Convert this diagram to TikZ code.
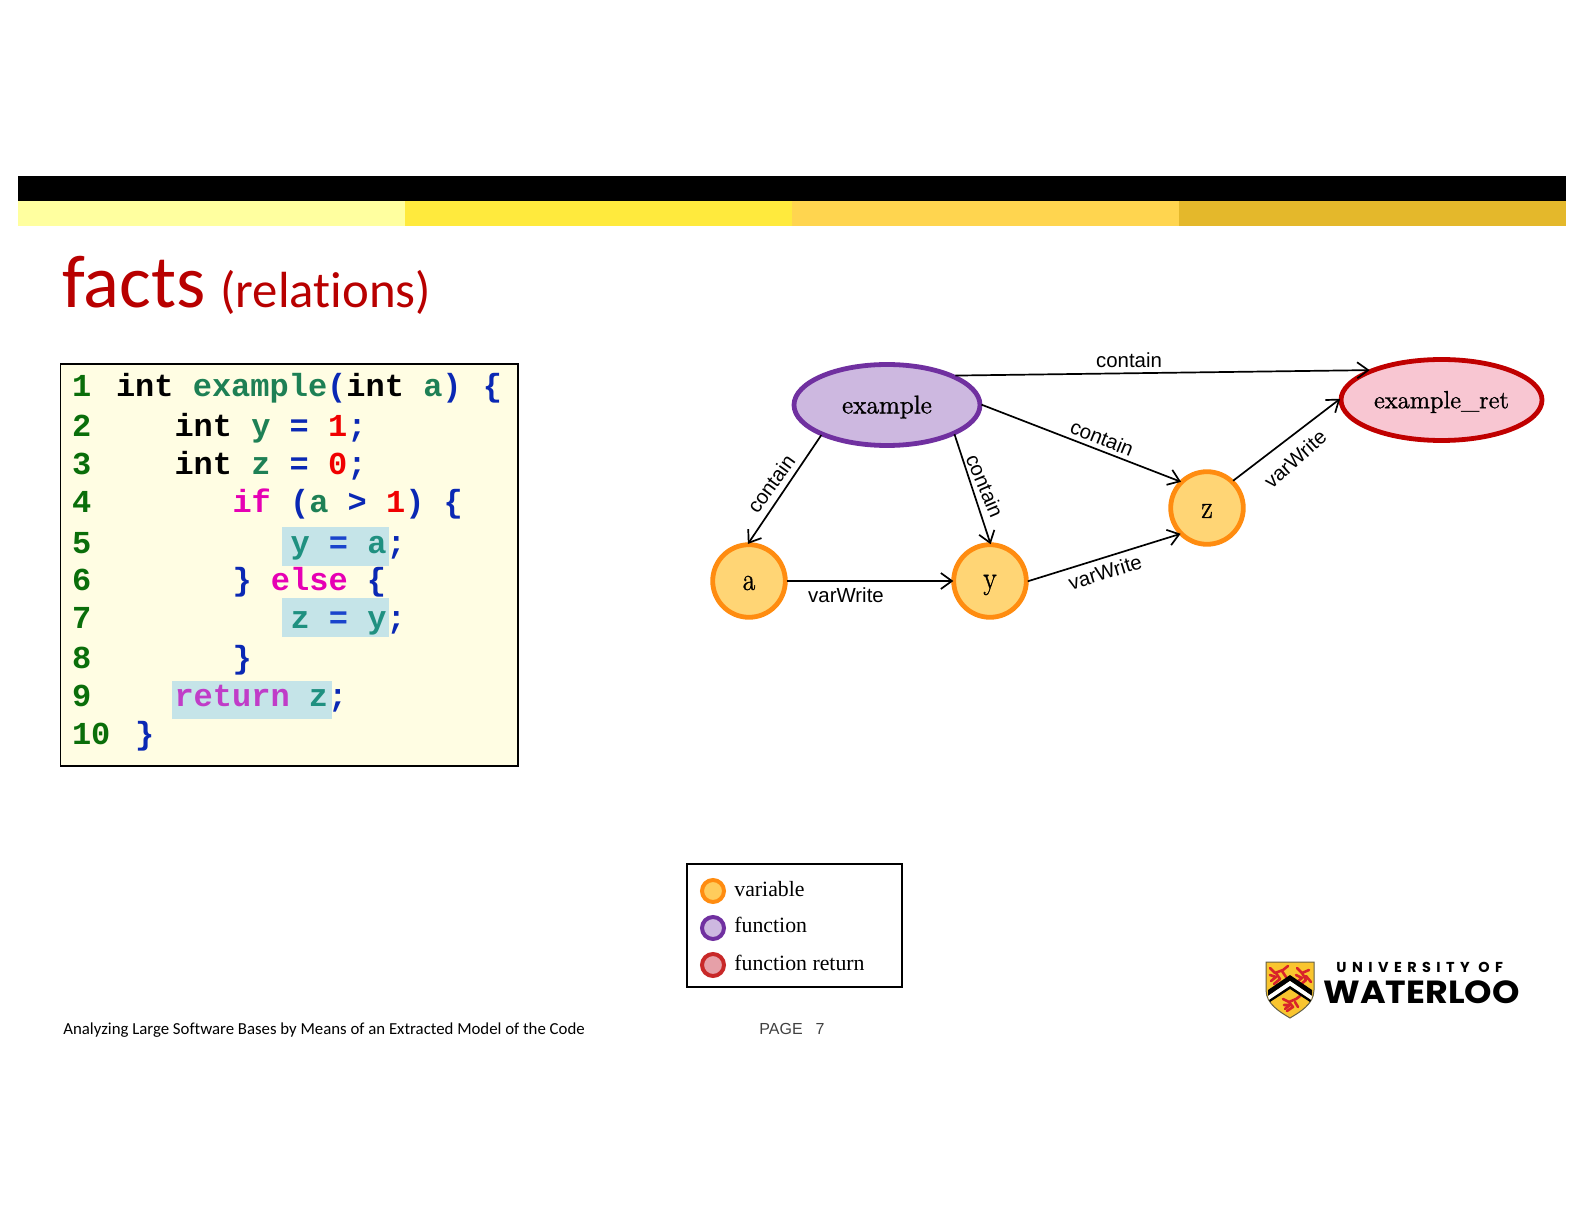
\documentclass[tikz,border=0pt]{standalone}
\usepackage{fontspec}
\usetikzlibrary{arrows.meta,shapes.geometric}
\setmainfont{Latin Modern Roman}
\setmonofont{Liberation Mono}
\newfontfamily\carlito[Ligatures=NoCommon]{Carlito}
\newfontfamily\arial{Liberation Sans}
\newfontfamily\serifleg{Liberation Serif}
\newfontfamily\fakeb[FakeBold=1.2]{Latin Modern Roman}
\newfontfamily\poppu[LetterSpace=38]{Poppins}
\newfontfamily\poppw{Poppins}
\definecolor{numc}{HTML}{0A6E0A}
\definecolor{idc}{HTML}{1E8055}
\definecolor{punc}{HTML}{0A28B4}
\definecolor{litc}{HTML}{F00000}
\definecolor{kwc}{HTML}{E600B4}
\definecolor{hlid}{HTML}{1F9080}
\definecolor{hleq}{HTML}{1A44CC}
\definecolor{retc}{HTML}{C03CC8}
\definecolor{hlbg}{HTML}{C5E4E8}
\definecolor{codebg}{HTML}{FFFDE3}
\definecolor{varl}{HTML}{FF8C10}
\definecolor{varf}{HTML}{FFD575}
\definecolor{funl}{HTML}{7030A0}
\definecolor{funf}{HTML}{CDB8E0}
\definecolor{retl}{HTML}{C00000}
\definecolor{retf}{HTML}{F8C6D2}
\definecolor{titc}{HTML}{B80000}
\definecolor{bara}{HTML}{FFFF9F}
\definecolor{barb}{HTML}{FFEA3D}
\definecolor{barc}{HTML}{FFD54F}
\definecolor{bard}{HTML}{E4B82B}
\definecolor{legvf}{HTML}{FFCC5C}
\definecolor{legrl}{HTML}{C82828}
\definecolor{legrf}{HTML}{E6A0A8}
\definecolor{shieldy}{HTML}{F9C52F}
\definecolor{shieldr}{HTML}{D8232A}
\newcommand{\cN}[1]{\textcolor{numc}{#1}}
\newcommand{\cI}[1]{\textcolor{idc}{#1}}
\newcommand{\cP}[1]{\textcolor{punc}{#1}}
\newcommand{\cL}[1]{\textcolor{litc}{#1}}
\newcommand{\cK}[1]{\textcolor{kwc}{#1}}
\newcommand{\cH}[1]{\textcolor{hlid}{#1}}
\newcommand{\cE}[1]{\textcolor{hleq}{#1}}
\newcommand{\nudge}[2]{\raisebox{-#1}[\height][\depth]{#2}}
\newcommand{\varlabel}[2]{\nudge{#1}{\scalebox{0.85}[1]{#2}}}
\tikzset{
  x=0.5pt,y=-0.5pt,
  codeline/.style={anchor=base west,inner sep=0pt,outer sep=0pt,font=\ttfamily\bfseries\fontsize{16}{16}\selectfont},
  varnode/.style={circle,draw=varl,fill=varf,line width=2.4pt,minimum size=36.3pt,inner sep=0pt,font=\fakeb\fontsize{16}{16}\selectfont},
  funnode/.style={ellipse,draw=funl,fill=funf,line width=2.4pt,minimum width=93pt,minimum height=40.5pt,inner sep=0pt,font=\fakeb\fontsize{12.8}{13}\selectfont},
  retnode/.style={ellipse,draw=retl,fill=retf,line width=2.4pt,minimum width=100.5pt,minimum height=40.5pt,inner sep=0pt,font=\fakeb\fontsize{12.4}{13}\selectfont},
  rel/.style={-{Straight Barb[length=5.5pt,width=8pt]},line width=0.85pt,shorten >=-1pt,shorten <=-0.5pt},
  rellabel/.style={inner sep=0pt,font=\arial\fontsize{10.2}{11}\selectfont},
  legkey/.style={circle,line width=2pt,minimum size=11pt,inner sep=0pt},
  legtext/.style={anchor=base west,inner sep=0pt,font=\serifleg\fontsize{10.9}{11}\selectfont},
  lion/.style={draw=shieldr,line width=1.3pt,line join=round,line cap=round},
}
\begin{document}
\begin{tikzpicture}
\useasboundingbox (0,0) rectangle (1584,1224);
% header bars
\fill[black] (18,176.5) rectangle (1566,201);
\fill[bara] (18,201) rectangle (405,226);
\fill[barb] (405,201) rectangle (792,226);
\fill[barc] (792,201) rectangle (1179,226);
\fill[bard] (1179,201) rectangle (1566,226);
% title
\node[anchor=base west,inner sep=0pt,text=titc] (title) at (62,308)
  {\carlito\fontsize{37.4}{40}\selectfont facts\hspace{7.5pt}\fontsize{25.4}{30}\selectfont (relations)};
% code panel
\draw[fill=codebg,line width=0.7pt] (60.5,364) rectangle (518,766);
\fill[hlbg] (282,527) rectangle (389,566);
\fill[hlbg] (282,598) rectangle (389,637);
\fill[hlbg] (172,681) rectangle (332,719);
\node[codeline] (n1) at (72,397) {\cN{1}};
\node[codeline] (n2) at (72,437) {\cN{2}};
\node[codeline] (n3) at (72,475) {\cN{3}};
\node[codeline] (n4) at (72,513) {\cN{4}};
\node[codeline] (n5) at (72,553) {\cN{5}};
\node[codeline] (n6) at (72,590) {\cN{6}};
\node[codeline] (n7) at (72,628) {\cN{7}};
\node[codeline] (n8) at (72,668) {\cN{8}};
\node[codeline] (n9) at (72,706) {\cN{9}};
\node[codeline] (n10) at (72,744) {\cN{10}};
\node[codeline] (l1) at (116,397) {int \cI{example}\cP{(}int \cI{a}\cP{)} \kern1pt\cP{\{}};
\node[codeline] (l2) at (174.5,437) {int \cI{y} \cP{=} \cL{1}\cP{;}};
\node[codeline] (l3) at (174.5,475) {int \cI{z} \cP{=} \cL{0}\cP{;}};
\node[codeline] (l4) at (232.5,513) {\cK{if} \cP{(}\cI{a} \cP{>} \cL{1}\cP{)} \cP{\{}};
\node[codeline] (l5) at (290.5,553) {\cH{y} \cE{=} \cH{a}\cP{;}};
\node[codeline] (l6) at (232.5,590) {\cP{\}} \cK{else} \cP{\{}};
\node[codeline] (l7) at (290.5,628) {\cH{z} \cE{=} \cH{y}\cP{;}};
\node[codeline] (l8) at (232.5,668) {\cP{\}}};
\node[codeline] (l9) at (174.5,706) {\textcolor{retc}{return} \cH{z}\cP{;}};
\node[codeline] (l10) at (135,744) {\cP{\}}};
% graph nodes
\node[funnode] (example) at (887,405) {\nudge{1pt}{example}};
\node[retnode] (ret) at (1441.5,400) {\nudge{1pt}{example\_ret}};
\node[varnode] (a) at (749,581) {\varlabel{1pt}{a}};
\node[varnode] (y) at (990,581) {\varlabel{2pt}{y}};
\node[varnode] (z) at (1207,508) {\varlabel{1.5pt}{z}};
% connectors
\draw[rel] (example.-155) -- (a.north);
\draw[rel] (example.-24.4) -- (y.north);
\draw[rel] (example.east) -- (z.136);
\draw[rel] (example.23.8) -- (ret.158);
\draw[rel] (a.east) -- (y.west);
\draw[rel] (y.east) -- (z.223);
\draw[rel] (z.46) -- (ret.west);
% connector labels
\node[rellabel] (c1) at (1129,360.5) {contain};
\node[rellabel,rotate=54] (c2) at (771,484) {contain};
\node[rellabel,rotate=-67] (c3) at (985,486) {contain};
\node[rellabel,rotate=-22] (c4) at (1102,438) {contain};
\node[rellabel] (v1) at (846,595.5) {varWrite};
\node[rellabel,rotate=17] (v2) at (1105,572) {varWrite};
\node[rellabel,rotate=42] (v3) at (1295,459) {varWrite};
% legend
\draw[line width=0.7pt] (687,864) rectangle (902,987);
\node[legkey,draw=varl,fill=legvf] (k1) at (713,891) {};
\node[legkey,draw=funl,fill=funf] (k2) at (713,928) {};
\node[legkey,draw=legrl,fill=legrf] (k3) at (713,965) {};
\node[legtext] (t1) at (734,896) {variable};
\node[legtext] (t2) at (734,932) {function};
\node[legtext] (t3) at (734,970) {function return};
% footer
\node[anchor=base west,inner sep=0pt] (foot) at (63,1034)
  {\carlito\fontsize{8.4}{10}\selectfont Analyzing Large Software Bases by Means of an Extracted Model of the Code};
\node[anchor=base west,inner sep=0pt,text=black!75] (page) at (759,1034)
  {\arial\fontsize{8}{10}\selectfont PAGE\hspace{6.5pt}7};
% logo shield
\fill[shieldy,draw=black!70!yellow,line width=0.5pt]
  (1266,962) -- (1314,962) -- (1314,990) .. controls (1314,1004) and (1300,1012) .. (1290,1018)
  .. controls (1280,1012) and (1266,1004) .. (1266,990) -- cycle;
% lions
\draw[lion] (1270,968) -- (1275,973) -- (1283,970) -- (1288,966);
\draw[lion] (1276,973) -- (1280,979) -- (1274,984);
\draw[lion] (1270,975) -- (1276,977) -- (1271,981);
\draw[lion] (1282,971) -- (1286,977);
\draw[lion] (1297,968) -- (1302,973) -- (1309,970);
\draw[lion] (1302,973) -- (1306,980) -- (1300,985);
\draw[lion] (1296,975) -- (1302,978) -- (1297,982);
\draw[lion] (1306,976) -- (1311,982);
\draw[lion] (1283,999) -- (1289,1002) -- (1296,999) -- (1300,996);
\draw[lion] (1289,1002) -- (1293,1007) -- (1287,1011);
\draw[lion] (1284,1005) -- (1290,1005) -- (1285,1009);
\draw[lion] (1295,1002) -- (1298,1007);
% chevron
\fill[black] (1268,990) -- (1290,975) -- (1312,990) -- (1312,996) -- (1290,981) -- (1268,996) -- cycle;
\fill[white] (1268,996) -- (1290,981) -- (1312,996) -- (1311,1000) -- (1290,986) -- (1269,1000) -- cycle;
\fill[black] (1269,1000) -- (1290,986) -- (1311,1000) -- (1310,1002) -- (1290,989) -- (1270,1002) -- cycle;
% logo text
\node[anchor=base west,inner sep=0pt] (uni) at (1336,972.5)
  {\poppu\fontsize{7.2}{8}\selectfont\bfseries UNIVERSITY OF};
\node[anchor=base west,inner sep=0pt] (wat) at (1323,1003)
  {\scalebox{1.09}[1]{\poppw\fontsize{16}{16}\selectfont\bfseries WATERLOO}};
\end{tikzpicture}
\end{document}
